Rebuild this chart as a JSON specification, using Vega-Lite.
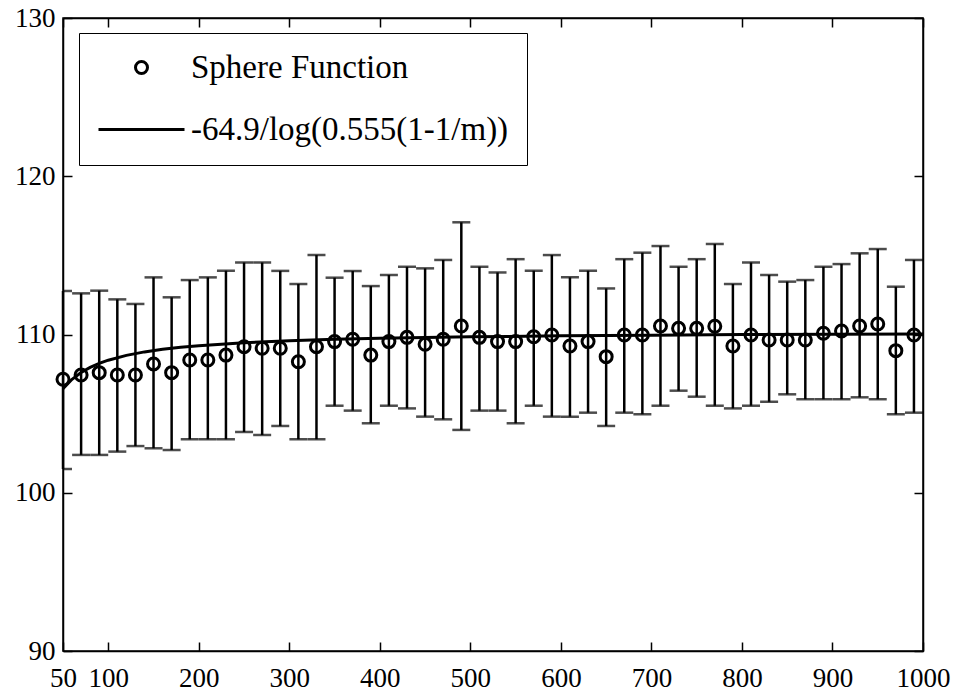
{
  "$schema": "https://vega.github.io/schema/vega-lite/v6.json",
  "width": 860,
  "height": 633,
  "autosize": "none",
  "padding": {"left": 63, "top": 18, "right": 34, "bottom": 41},
  "background": "white",
  "config": {
    "view": {"stroke": "black", "strokeWidth": 1.5},
    "font": "Liberation Serif",
    "axis": {
      "grid": false,
      "domainColor": "black",
      "domainWidth": 1.5,
      "tickColor": "black",
      "tickWidth": 1.5,
      "tickSize": -9,
      "labelFont": "'Liberation Serif', 'Times New Roman', serif",
      "labelFontSize": 27,
      "labelColor": "black",
      "labelFlush": false,
      "labelOverlap": false,
      "title": null
    },
    "legend": {
      "labelFont": "'Liberation Serif', 'Times New Roman', serif",
      "labelFontSize": 33,
      "labelColor": "black",
      "labelLimit": 600
    }
  },
  "datasets": {
    "pts": [
      {"m": 50, "y": 107.17, "lo": 101.5, "hi": 112.75},
      {"m": 70, "y": 107.44, "lo": 102.39, "hi": 112.6},
      {"m": 90, "y": 107.59, "lo": 102.39, "hi": 112.77},
      {"m": 110, "y": 107.44, "lo": 102.6, "hi": 112.22},
      {"m": 130, "y": 107.44, "lo": 102.95, "hi": 111.93},
      {"m": 150, "y": 108.14, "lo": 102.81, "hi": 113.61},
      {"m": 170, "y": 107.59, "lo": 102.7, "hi": 112.35},
      {"m": 190, "y": 108.39, "lo": 103.38, "hi": 113.44},
      {"m": 210, "y": 108.39, "lo": 103.38, "hi": 113.61},
      {"m": 230, "y": 108.7, "lo": 103.38, "hi": 114.03},
      {"m": 250, "y": 109.23, "lo": 103.84, "hi": 114.55},
      {"m": 270, "y": 109.13, "lo": 103.65, "hi": 114.55},
      {"m": 290, "y": 109.13, "lo": 104.22, "hi": 114.02},
      {"m": 310, "y": 108.28, "lo": 103.38, "hi": 113.19},
      {"m": 330, "y": 109.23, "lo": 103.38, "hi": 115.02},
      {"m": 350, "y": 109.55, "lo": 105.5, "hi": 113.59},
      {"m": 370, "y": 109.7, "lo": 105.19, "hi": 114.01},
      {"m": 390, "y": 108.7, "lo": 104.39, "hi": 113.06},
      {"m": 410, "y": 109.55, "lo": 105.5, "hi": 113.76},
      {"m": 430, "y": 109.82, "lo": 105.33, "hi": 114.28},
      {"m": 450, "y": 109.38, "lo": 104.81, "hi": 114.18},
      {"m": 470, "y": 109.7, "lo": 104.64, "hi": 114.71},
      {"m": 490, "y": 110.54, "lo": 103.97, "hi": 117.09},
      {"m": 510, "y": 109.82, "lo": 105.19, "hi": 114.28},
      {"m": 530, "y": 109.55, "lo": 105.19, "hi": 113.92},
      {"m": 550, "y": 109.55, "lo": 104.39, "hi": 114.76},
      {"m": 570, "y": 109.86, "lo": 105.5, "hi": 114.03},
      {"m": 590, "y": 109.97, "lo": 104.81, "hi": 115.02},
      {"m": 610, "y": 109.27, "lo": 104.81, "hi": 113.61},
      {"m": 630, "y": 109.55, "lo": 105.06, "hi": 114.03},
      {"m": 650, "y": 108.6, "lo": 104.22, "hi": 112.91},
      {"m": 670, "y": 109.97, "lo": 105.06, "hi": 114.76},
      {"m": 690, "y": 109.97, "lo": 104.96, "hi": 115.17},
      {"m": 710, "y": 110.54, "lo": 105.5, "hi": 115.59},
      {"m": 730, "y": 110.39, "lo": 106.45, "hi": 114.28},
      {"m": 750, "y": 110.39, "lo": 106.07, "hi": 114.76},
      {"m": 770, "y": 110.52, "lo": 105.5, "hi": 115.72},
      {"m": 790, "y": 109.27, "lo": 105.33, "hi": 113.19},
      {"m": 810, "y": 109.97, "lo": 105.5, "hi": 114.55},
      {"m": 830, "y": 109.65, "lo": 105.75, "hi": 113.76},
      {"m": 850, "y": 109.65, "lo": 106.22, "hi": 113.34},
      {"m": 870, "y": 109.65, "lo": 105.91, "hi": 113.44},
      {"m": 890, "y": 110.08, "lo": 105.91, "hi": 114.28},
      {"m": 910, "y": 110.22, "lo": 105.91, "hi": 114.45},
      {"m": 930, "y": 110.54, "lo": 106.03, "hi": 115.13},
      {"m": 950, "y": 110.66, "lo": 105.91, "hi": 115.4},
      {"m": 970, "y": 108.98, "lo": 104.96, "hi": 113.02},
      {"m": 990, "y": 109.97, "lo": 105.06, "hi": 114.71}
    ],
    "fit": [
      {"m": 50, "v": 106.57},
      {"m": 60, "v": 107.168},
      {"m": 70, "v": 107.598},
      {"m": 80, "v": 107.921},
      {"m": 90, "v": 108.174},
      {"m": 100, "v": 108.377},
      {"m": 120, "v": 108.682},
      {"m": 140, "v": 108.901},
      {"m": 160, "v": 109.065},
      {"m": 180, "v": 109.194},
      {"m": 200, "v": 109.296},
      {"m": 250, "v": 109.481},
      {"m": 300, "v": 109.605},
      {"m": 350, "v": 109.694},
      {"m": 400, "v": 109.76},
      {"m": 500, "v": 109.853},
      {"m": 600, "v": 109.915},
      {"m": 700, "v": 109.96},
      {"m": 800, "v": 109.993},
      {"m": 900, "v": 110.019},
      {"m": 1000, "v": 110.039}
    ]
  },
  "layer": [
    {
      "data": {"name": "pts"},
      "mark": {"type": "rule", "strokeWidth": 2.5, "color": "black"},
      "encoding": {
        "x": {"field": "m", "type": "quantitative",
          "scale": {"domain": [50, 1000], "nice": false, "zero": false},
          "axis": {"orient": "bottom", "values": [50, 100, 200, 300, 400, 500, 600, 700, 800, 900, 1000], "format": "d", "labelPadding": 23}},
        "y": {"field": "lo", "type": "quantitative",
          "scale": {"domain": [90, 130], "nice": false, "zero": false},
          "axis": {"orient": "left", "values": [90, 100, 110, 120, 130], "labelPadding": 17}},
        "y2": {"field": "hi"}
      }
    },
    {
      "data": {"name": "pts"},
      "mark": {"type": "tick", "orient": "horizontal", "size": 18, "thickness": 2.5, "color": "black", "clip": true},
      "encoding": {
        "x": {"field": "m", "type": "quantitative",
          "axis": {"orient": "top", "labels": false, "values": [50, 100, 200, 300, 400, 500, 600, 700, 800, 900, 1000]}},
        "y": {"field": "lo", "type": "quantitative",
          "axis": {"orient": "right", "labels": false, "values": [90, 100, 110, 120, 130]}}
      }
    },
    {
      "data": {"name": "pts"},
      "mark": {"type": "tick", "orient": "horizontal", "size": 18, "thickness": 2.5, "color": "black", "clip": true},
      "encoding": {
        "x": {"field": "m", "type": "quantitative", "axis": null},
        "y": {"field": "hi", "type": "quantitative", "axis": null}
      }
    },
    {
      "data": {"name": "fit"},
      "mark": {"type": "line", "strokeWidth": 3, "color": "black"},
      "encoding": {
        "x": {"field": "m", "type": "quantitative", "axis": null},
        "y": {"field": "v", "type": "quantitative", "axis": null}
      }
    },
    {
      "data": {"name": "pts"},
      "transform": [{"calculate": "'Sphere Function'", "as": "series"}],
      "mark": {"type": "point", "filled": false, "stroke": "black", "strokeWidth": 3, "opacity": 1},
      "encoding": {
        "x": {"field": "m", "type": "quantitative", "axis": null},
        "y": {"field": "y", "type": "quantitative", "axis": null},
        "shape": {"field": "series", "type": "nominal",
          "scale": {"domain": ["Sphere Function", "-64.9/log(0.555(1-1/m))"], "range": ["circle", "stroke"]},
          "legend": {"title": null, "orient": "none", "legendX": 16, "legendY": 15,
            "strokeColor": "black", "fillColor": "white", "padding": 18,
            "labelFont": "'Liberation Serif', 'Times New Roman', serif", "labelFontSize": 33, "labelColor": "black", "labelOffset": 5, "labelLimit": 600,
            "symbolStrokeColor": "black", "symbolStrokeWidth": 3, "symbolFillColor": "transparent", "rowPadding": -2}},
        "size": {"field": "series", "type": "nominal",
          "scale": {"type": "point", "domain": ["Sphere Function", "-64.9/log(0.555(1-1/m))"], "range": [144, 7396], "padding": 0},
          "legend": {"title": null, "orient": "none", "legendX": 16, "legendY": 15,
            "strokeColor": "black", "fillColor": "white", "padding": 18,
            "labelFont": "'Liberation Serif', 'Times New Roman', serif", "labelFontSize": 33, "labelColor": "black", "labelOffset": 5, "labelLimit": 600,
            "symbolStrokeColor": "black", "symbolStrokeWidth": 3, "symbolFillColor": "transparent", "rowPadding": -2}}
      }
    }
  ],
  "resolve": {"axis": {"x": "independent", "y": "independent"}}
}
